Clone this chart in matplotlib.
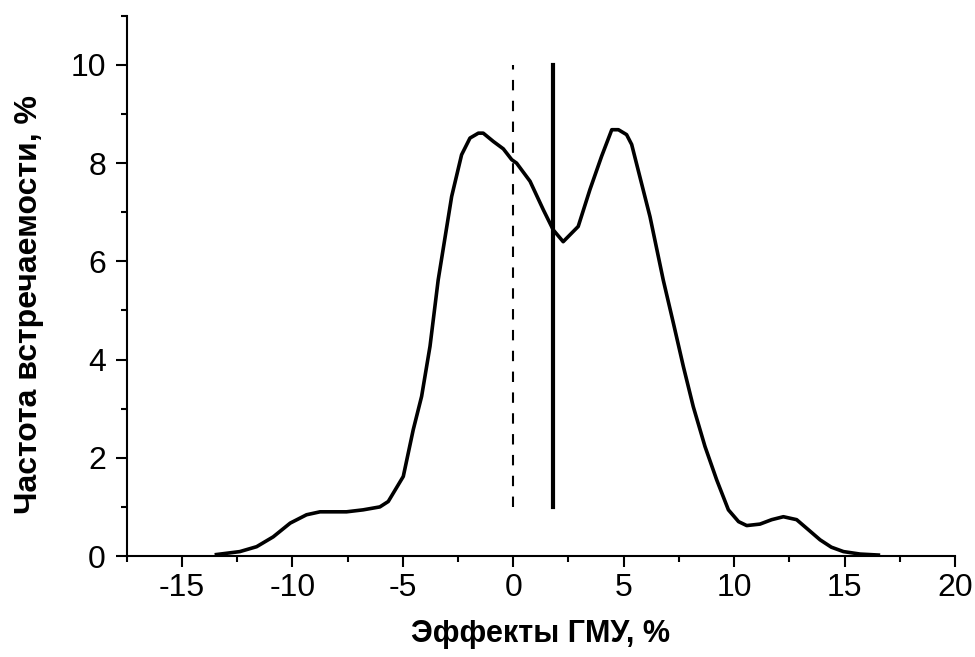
import matplotlib.pyplot as plt
from matplotlib.ticker import MultipleLocator

plt.rcParams['font.family'] = ['Liberation Sans', 'DejaVu Sans']
plt.rcParams['axes.unicode_minus'] = False

# curve
effect = [-13.44, -12.38, -11.62, -10.87, -10.1, -9.36, -8.75, -7.55, -6.8, -6.04,
          -5.66, -4.98, -4.53, -4.15, -3.77, -3.4, -2.79, -2.34, -1.96, -1.58,
          -1.36, -0.9, -0.45, -0.07, 0.15, 0.76, 1.36, 1.81, 2.26, 2.94,
          3.47, 4.0, 4.46, 4.76, 5.13, 5.36, 6.19, 6.79, 7.25, 7.7,
          8.15, 8.68, 9.21, 9.74, 10.2, 10.57, 11.17, 11.7, 12.23, 12.83,
          13.4, 13.89, 14.4, 14.95, 15.7, 16.53]
freq = [0.03, 0.09, 0.19, 0.39, 0.67, 0.84, 0.90, 0.90, 0.94, 1.0,
        1.11, 1.62, 2.57, 3.25, 4.27, 5.62, 7.32, 8.17, 8.51, 8.61,
        8.61, 8.44, 8.29, 8.07, 8.0, 7.63, 7.05, 6.64, 6.40, 6.71,
        7.46, 8.14, 8.68, 8.68, 8.58, 8.38, 6.91, 5.62, 4.74, 3.86,
        3.04, 2.23, 1.55, 0.94, 0.70, 0.62, 0.65, 0.74, 0.80, 0.74,
        0.52, 0.33, 0.18, 0.09, 0.04, 0.02]

zero_line = 0.0
mean_line = 1.8
line_span = [1, 10]

fig = plt.figure(figsize=(9.75, 6.57), dpi=100)
ax = fig.add_axes([0.13, 0.1537, 0.8495, 0.8223])

ax.plot(effect, freq, color="black", lw=2.6, solid_joinstyle="round")
ax.plot([zero_line, zero_line], line_span, color="black", lw=1.5, dashes=(5, 5))
ax.plot([mean_line, mean_line], line_span, color="black", lw=3)

ax.set_xlim(-17.5, 20)
ax.set_ylim(0, 11)
ax.xaxis.set_major_locator(MultipleLocator(5))
ax.xaxis.set_minor_locator(MultipleLocator(2.5))
ax.yaxis.set_major_locator(MultipleLocator(2))
ax.yaxis.set_minor_locator(MultipleLocator(1))

for s in ["top", "right"]:
    ax.spines[s].set_visible(False)
for s in ["left", "bottom"]:
    ax.spines[s].set_linewidth(1.5)

ax.tick_params(which="major", direction="out", length=8, width=1.5, labelsize=23)
ax.tick_params(axis="y", which="major", pad=7)
ax.tick_params(axis="x", which="major", pad=4)
ax.tick_params(which="minor", direction="out", length=4, width=1.5)

ax.set_xlabel("Эффекты ГМУ, %", fontsize=22, fontweight="bold", labelpad=12)
ax.set_ylabel("Частота встречаемости, %", fontsize=23, fontweight="bold")
ax.yaxis.set_label_coords(-0.10, 0.465)

fig.savefig("out.png", dpi=100)
